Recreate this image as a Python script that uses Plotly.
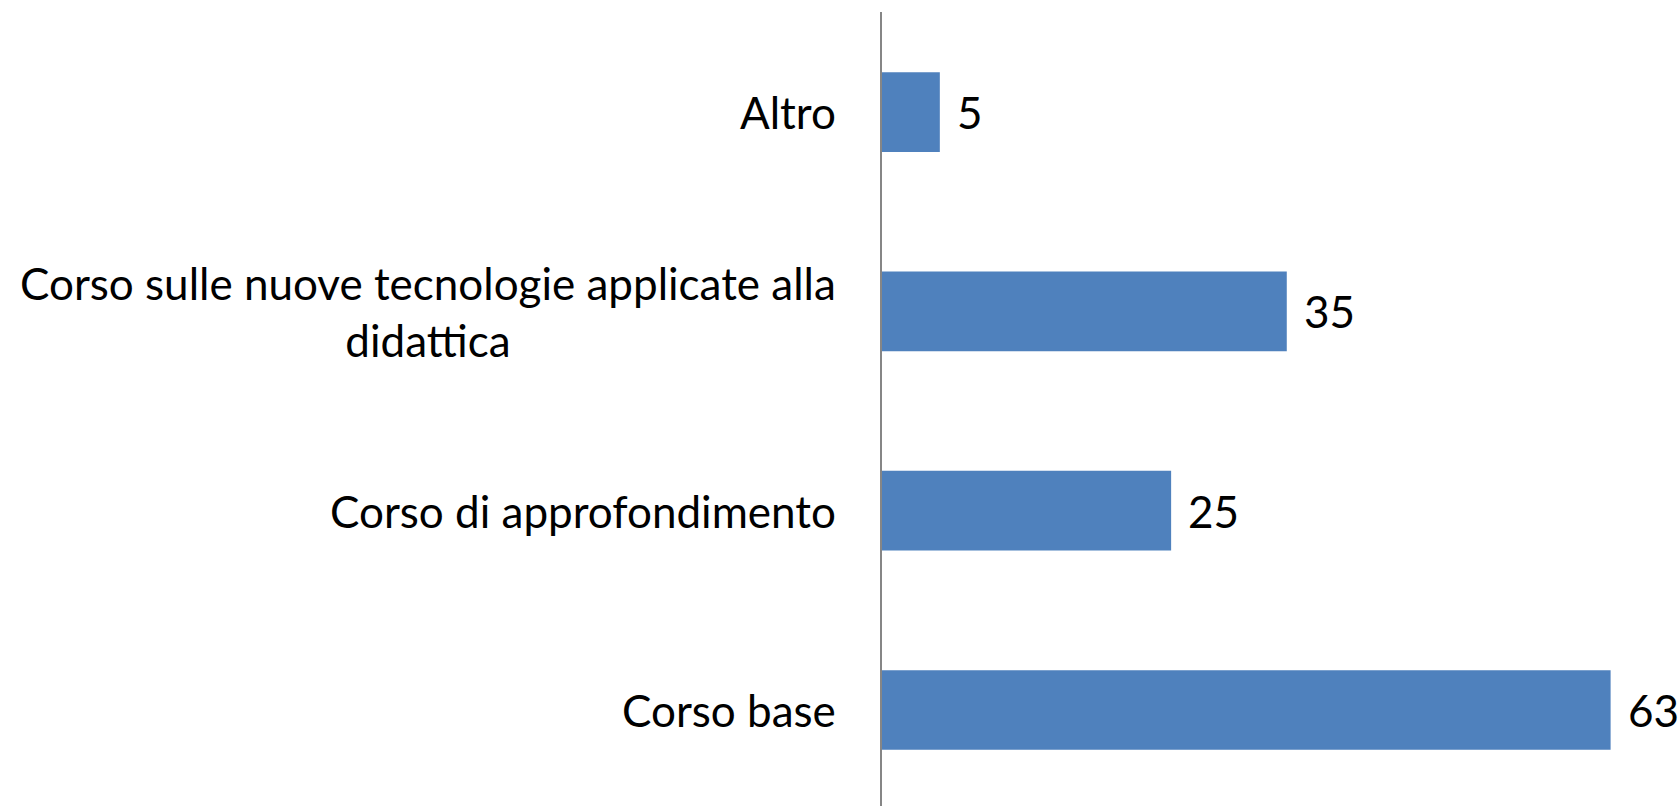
"""Horizontal bar chart: course types requested."""

import plotly.graph_objs as go

# categories listed bottom to top
categories = ["Corso base", "Corso di approfondimento",
              "Corso sulle nuove tecnologie applicate alla<br>didattica", "Altro"]
values = [63, 25, 35, 5]

BAR_COLOR = "#4F81BD"
FONT = "Lato"

fig = go.Figure(go.Bar(y=categories, x=values, orientation="h",
                       marker=dict(color=BAR_COLOR, line=dict(width=0))))

# category labels (centre-aligned lines) and value labels
for cat, val in zip(categories, values):
    fig.add_annotation(x=0, y=cat, xref="x", yref="y", text=cat, showarrow=False,
                       xanchor="right", xshift=-44, align="center",
                       font=dict(family=FONT, size=44, color="black"))
    fig.add_annotation(x=val, y=cat, xref="x", yref="y", text=str(val), showarrow=False,
                       xanchor="left", xshift=15,
                       font=dict(family=FONT, size=44, color="black"))

fig.update_layout(width=1680, height=806, plot_bgcolor="white", paper_bgcolor="white",
                  margin=dict(l=882, r=0, t=12, b=0), bargap=0.6, showlegend=False,
                  font=dict(family=FONT))
fig.update_xaxes(range=[0, 69.0], visible=False, showgrid=False, zeroline=False)
fig.update_yaxes(range=[-0.4816, 3.502], showticklabels=False, showgrid=False,
                 zeroline=False, showline=True, linecolor="#868686", linewidth=2,
                 ticks="")

fig.write_html("out.html", config={"displayModeBar": False})

# drop the default body margin so the figure fills the window without scrollbars
with open("out.html", encoding="utf-8") as f:
    html = f.read()
html = html.replace("<body>", '<body style="margin:0;overflow:hidden">', 1)
with open("out.html", "w", encoding="utf-8") as f:
    f.write(html)
